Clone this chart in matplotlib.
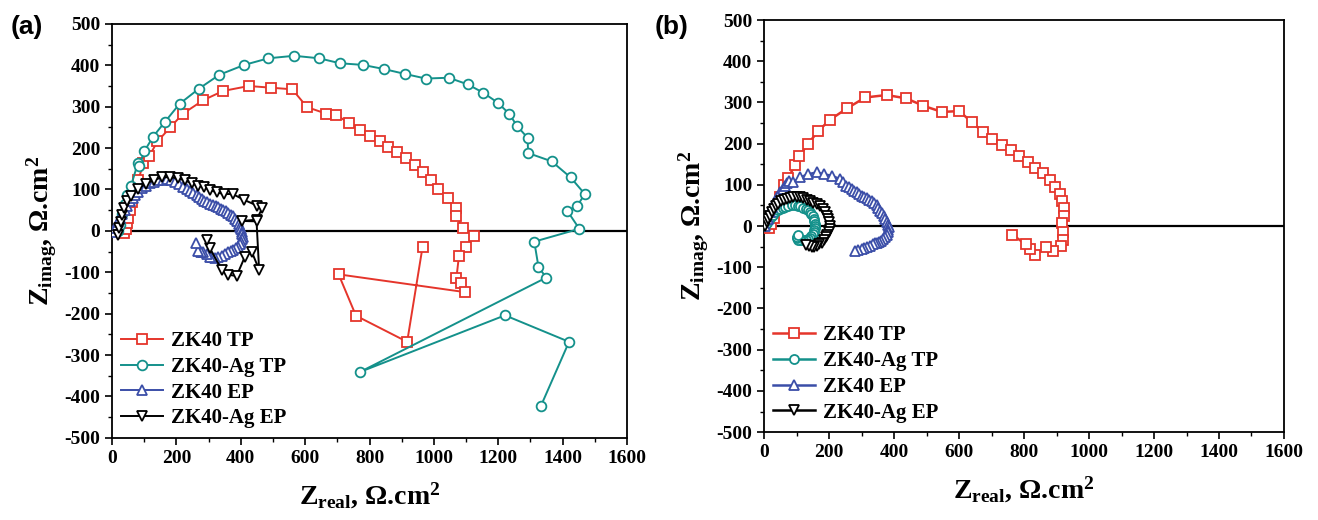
import matplotlib
matplotlib.use("Agg")
import matplotlib.pyplot as plt
from matplotlib.ticker import MultipleLocator

plt.rcParams['font.family'] = ['Liberation Serif', 'DejaVu Serif']
plt.rcParams['font.weight'] = 'bold'
plt.rcParams['axes.unicode_minus'] = False
plt.rcParams['mathtext.fontset'] = 'custom'
plt.rcParams['mathtext.rm'] = 'Liberation Serif:bold'
plt.rcParams['mathtext.bf'] = 'Liberation Serif:bold'
plt.rcParams['mathtext.it'] = 'Liberation Serif:bold'

labels = ["ZK40 TP", "ZK40-Ag TP", "ZK40 EP", "ZK40-Ag EP"]
colors = ["#e5352b", "#14918b", "#3b4ea8", "#000000"]
markers = ["s", "o", "^", "v"]

# ---- Panel (a) ----
a_tp_x = [38, 42, 46, 50, 55, 62, 70, 82, 97, 116, 141, 181, 220, 284, 345, 425, 493, 560, 606, 666, 697,
          735, 769, 801, 832, 859, 885, 913, 940, 965, 990, 1014, 1043, 1068, 1070, 1090, 1124, 1101, 1078,
          1070, 1085, 1097, 704, 758, 917, 965]
a_tp_y = [-5, 5, 18, 32, 50, 70, 95, 123, 163, 181, 216, 250, 283, 316, 338, 350, 346, 342, 299, 283, 280,
          261, 244, 230, 217, 202, 190, 176, 159, 142, 122, 101, 79, 55, 35, 8, -12, -38, -60,
          -114, -125, -148, -105, -205, -268, -38]

a_agtp_x = [20, 25, 32, 40, 46, 59, 80, 84, 100, 128, 165, 210, 269, 333, 411, 486, 566, 643, 708, 779,
            845, 911, 975, 1046, 1105, 1153, 1198, 1234, 1258, 1291, 1293, 1366, 1425, 1469, 1445, 1414,
            1452, 1312, 1325, 1349, 770, 1221, 1420, 1332]
a_agtp_y = [0, 15, 40, 65, 87, 109, 163, 157, 192, 228, 264, 307, 343, 377, 401, 417, 423, 417, 405, 401,
            391, 379, 368, 370, 354, 334, 310, 283, 254, 225, 188, 168, 129, 89, 60, 49,
            5, -26, -87, -113, -341, -204, -268, -424]

a_ep_x = [4, 10, 15, 20, 25, 32, 40, 48, 56, 64, 71, 82, 92, 105, 118, 131, 144, 157, 170, 183, 196, 209,
          221, 232, 242, 253, 263, 271, 278, 286, 294, 304, 315, 322, 330, 338, 346, 354, 361, 369, 377,
          383, 389, 394, 398, 401, 403, 405, 406, 404, 401, 397, 392, 385, 377, 369, 361, 351, 341, 330,
          320, 312, 304, 294, 284, 276, 268, 261]
a_ep_y = [-2, 6, 14, 22, 31, 41, 51, 61, 71, 79, 87, 95, 103, 109, 115, 119, 123, 124, 125, 122, 119, 113,
          107, 102, 97, 92, 87, 81, 76, 72, 69, 66, 63, 60, 57, 54, 51, 47, 43, 39, 35,
          29, 23, 17, 10, 4, -2, -8, -14, -20, -26, -32, -38, -42, -46, -49, -52, -56, -60, -63,
          -66, -64, -62, -57, -52, -50, -48, -30]

a_agep_x = [20, 23, 27, 31, 37, 46, 58, 80, 105, 131, 154, 180, 204, 227, 247, 268, 287, 304, 325, 348,
            375, 410, 451, 467, 449, 404, 449, 457, 434, 413, 387, 361, 341, 304, 296]
a_agep_y = [-10, 6, 22, 39, 55, 71, 85, 102, 114, 123, 129, 130, 127, 122, 115, 109, 105, 99, 93, 89,
            89, 75, 61, 55, 27, 24, 23, -94, -50, -62, -109, -106, -94, -42, -22]

# ---- Panel (b) ----
b_tp_x = [15, 22, 30, 40, 50, 62, 75, 95, 108, 134, 167, 203, 256, 311, 377, 437, 490, 547, 601, 639, 673,
          703, 733, 760, 785, 811, 834, 857, 880, 895, 911, 918, 924, 924, 916, 919, 919, 914, 890, 868,
          835, 818, 805, 764]
b_tp_y = [-5, 5, 20, 45, 70, 100, 117, 148, 169, 198, 231, 258, 286, 312, 318, 310, 292, 277, 279, 252, 229,
          211, 197, 184, 171, 156, 142, 128, 112, 94, 78, 60, 43, 25, 7, -14, -33, -48, -61, -52,
          -70, -56, -44, -21]

b_agtp_x = [3, 8, 15, 21, 28, 35, 42, 50, 58, 66, 75, 85, 95, 104, 112, 120, 128, 134, 140, 145, 150, 153,
            155, 156, 157, 156, 155, 153, 150, 145, 140, 134, 128, 121, 115, 110, 105, 101, 100, 103]
b_agtp_y = [0, 8, 15, 22, 28, 33, 38, 42, 45, 47, 49, 50, 50, 49, 48, 45, 42, 38, 34, 29, 24, 18,
            12, 6, 0, -5, -10, -15, -20, -24, -28, -31, -33, -34, -35, -34, -33, -30, -27, -22]

b_ep_x = [4, 11, 18, 26, 34, 41, 49, 57, 65, 72, 78, 90, 111, 136, 162, 183, 208, 234, 243, 252, 261, 270,
          278, 285, 292, 300, 308, 316, 323, 331, 339, 347, 352, 357, 363, 369, 373, 377, 380, 383, 382,
          381, 377, 372, 366, 359, 353, 347, 341, 334, 325, 316, 308, 300, 290, 280]
b_ep_y = [0, 17, 33, 46, 58, 70, 82, 90, 98, 104, 110, 106, 118, 126, 130, 126, 122, 114, 106, 98, 94, 90,
          86, 82, 78, 74, 70, 67, 64, 61, 56, 51, 44, 37, 31, 25, 17, 9, 3, -3, -9,
          -15, -21, -27, -32, -36, -38, -40, -42, -44, -48, -52, -54, -56, -58, -60]

b_agep_x = [3, 8, 13, 18, 24, 30, 36, 44, 52, 61, 70, 80, 90, 100, 111, 121, 131, 142, 152, 162, 172, 180,
            188, 193, 198, 201, 203, 202, 200, 195, 190, 184, 177, 170, 162, 155, 147, 138, 130]
b_agep_y = [1, 9, 17, 25, 33, 41, 48, 54, 60, 63, 66, 68, 70, 70, 70, 67, 64, 61, 57, 53, 48, 41,
            33, 25, 17, 9, 1, -7, -15, -21, -27, -33, -40, -44, -48, -50, -52, -49, -45]

fig = plt.figure(figsize=(13.18, 5.2), dpi=100)
axa = fig.add_axes([0.085, 0.158, 0.3907, 0.796])
axb = fig.add_axes([0.5797, 0.169, 0.3945, 0.7925])

def style(ax):
    ax.set_xlim(0, 1600)
    ax.set_ylim(-500, 500)
    ax.xaxis.set_major_locator(MultipleLocator(200))
    ax.xaxis.set_minor_locator(MultipleLocator(100))
    ax.yaxis.set_major_locator(MultipleLocator(100))
    ax.yaxis.set_minor_locator(MultipleLocator(50))
    ax.tick_params(which='major', direction='out', length=5, width=1.2, labelsize=14, top=False, right=False)
    ax.tick_params(which='minor', direction='out', length=3, width=1.0, top=False, right=False)
    for lab in ax.get_xticklabels() + ax.get_yticklabels():
        lab.set_fontweight('bold')
    for s in ax.spines.values():
        s.set_linewidth(1.3)
    ax.axhline(0, color='black', lw=1.6, zorder=1)
    ax.set_xlabel(r'Z$_{\rm real}$, Ω.cm$^{\rm 2}$', fontsize=20, fontweight='bold', labelpad=10)
    ax.set_ylabel(r'Z$_{\rm imag}$, Ω.cm$^{\rm 2}$', fontsize=20, fontweight='bold', labelpad=4)

series_a = [(a_tp_x, a_tp_y), (a_agtp_x, a_agtp_y), (a_ep_x, a_ep_y), (a_agep_x, a_agep_y)]
series_b = [(b_tp_x, b_tp_y), (b_agtp_x, b_agtp_y), (b_ep_x, b_ep_y), (b_agep_x, b_agep_y)]

for ax, series, lw, ms in [(axa, series_a, 1.4, 7), (axb, series_b, 1.8, 6.5)]:
    for (x, y), lab, c, m in zip(series, labels, colors, markers):
        ax.plot(x, y, color=c, lw=lw, marker=m, markersize=ms, markerfacecolor='white',
                markeredgecolor=c, markeredgewidth=1.3, label=lab, zorder=3)
    style(ax)
    leg = ax.legend(loc='lower left', bbox_to_anchor=(0.0, 0.0), frameon=False,
                    prop={'family': 'Liberation Serif', 'weight': 'bold', 'size': 15},
                    handlelength=2.0, handletextpad=0.4, labelspacing=0.28, borderaxespad=0.15,
                    borderpad=0.3)

fig.text(0.008, 0.935, '(a)', fontsize=19, fontweight='bold', family='Liberation Sans')
fig.text(0.497, 0.935, '(b)', fontsize=19, fontweight='bold', family='Liberation Sans')

fig.savefig('out.png', dpi=100)
